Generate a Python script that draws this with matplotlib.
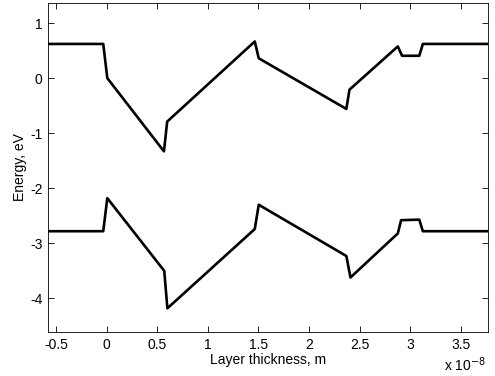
import numpy as np
import matplotlib.pyplot as plt
from matplotlib.ticker import FuncFormatter

plt.rcParams['font.family'] = ['Liberation Sans', 'DejaVu Sans']
plt.rcParams['axes.unicode_minus'] = False

# layer thickness in units of 1e-8 m
x_cb = [-0.58, -0.034, 0.006, 0.566, 0.598, 1.464, 1.503, 2.369, 2.40, 2.878, 2.92, 3.09, 3.125, 3.77]
e_cb = [0.62, 0.62, 0.0, -1.33, -0.79, 0.665, 0.36, -0.56, -0.21, 0.575, 0.405, 0.405, 0.62, 0.62]

x_vb = [-0.58, -0.034, 0.006, 0.569, 0.60, 1.464, 1.503, 2.369, 2.41, 2.878, 2.91, 3.09, 3.125, 3.77]
e_vb = [-2.78, -2.78, -2.18, -3.50, -4.18, -2.74, -2.30, -3.23, -3.62, -2.82, -2.58, -2.57, -2.78, -2.78]

x_ticks = [-0.5, 0, 0.5, 1, 1.5, 2, 2.5, 3, 3.5]
y_ticks = [-4, -3, -2, -1, 0, 1]

scale = 1e-8

fig = plt.figure(figsize=(4.95, 3.76), dpi=100)
ax = fig.add_axes([0.097, 0.117, 0.889, 0.876])

ax.plot(np.array(x_cb) * scale, e_cb, color='black', lw=1.9)
ax.plot(np.array(x_vb) * scale, e_vb, color='black', lw=1.9)

ax.set_xlim(-0.58 * scale, 3.77 * scale)
ax.set_ylim(-4.61, 1.37)
ax.set_xticks(np.array(x_ticks) * scale)
ax.set_yticks(y_ticks)
ax.xaxis.set_major_formatter(FuncFormatter(lambda v, p: '%g' % round(v / scale, 3)))
ax.tick_params(direction='in', top=True, right=True, length=4, width=0.6,
               labelsize=10, colors='black', pad=4)
for s in ax.spines.values():
    s.set_linewidth(0.6)

ax.set_xlabel('Layer thickness, m', fontsize=10, labelpad=1)
ax.set_ylabel('Energy, eV', fontsize=10, labelpad=2)
ax.text(0.995, -0.072, r'x 10$^{\mathrm{-8}}$', transform=ax.transAxes, ha='right', va='top', fontsize=10)

fig.savefig('out.png', dpi=100)
